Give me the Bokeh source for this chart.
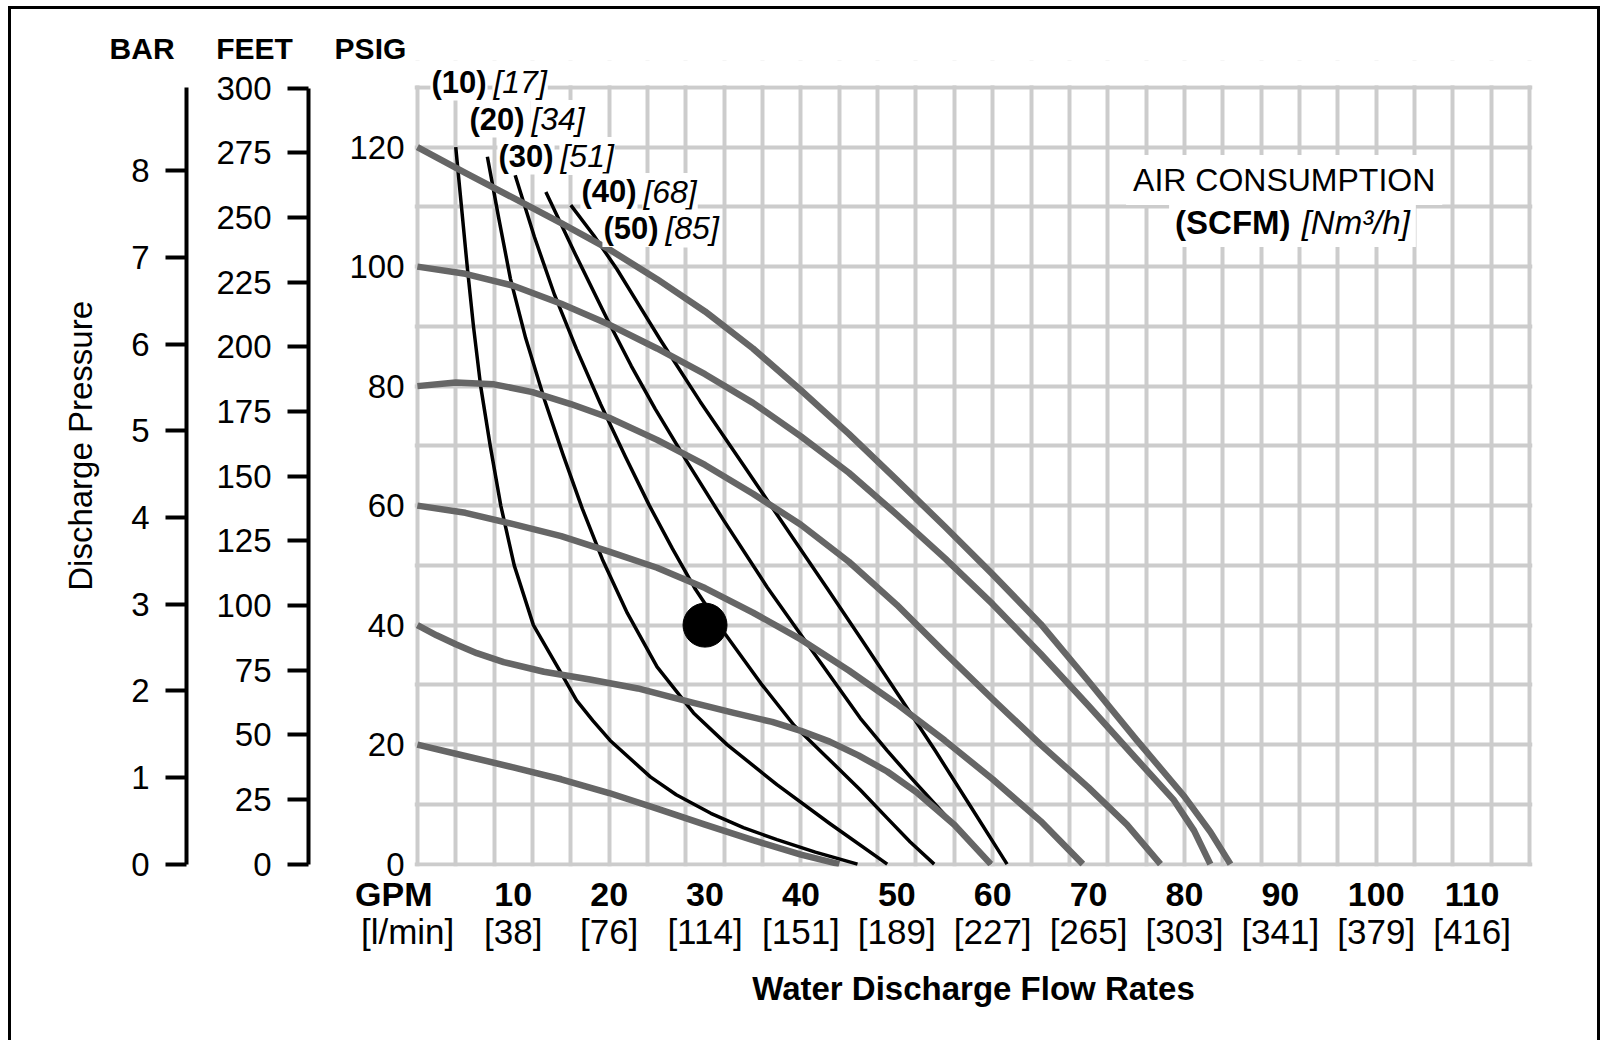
import math
from bokeh.plotting import figure
from bokeh.models import LinearAxis, Range1d, FixedTicker, Label, BoxAnnotation
from bokeh.embed import file_html
from bokeh.resources import INLINE

# ---------------- data ----------------
gpm_ticks = [10, 20, 30, 40, 50, 60, 70, 80, 90, 100, 110]
lpm_labels = ["[38]", "[76]", "[114]", "[151]", "[189]", "[227]", "[265]",
              "[303]", "[341]", "[379]", "[416]"]
gpm_unit = "GPM"
lpm_unit = "[l/min]"
psig_ticks = [0, 20, 40, 60, 80, 100, 120]
feet_ticks = [0, 25, 50, 75, 100, 125, 150, 175, 200, 225, 250, 275, 300]
bar_ticks = [0, 1, 2, 3, 4, 5, 6, 7, 8]

# discharge-pressure curves for each air inlet pressure (gray)
p120_gpm = [0, 5, 10, 15, 20, 25, 30, 35, 40, 45, 50, 55, 60, 65, 70, 75, 80, 82.7, 84.8]
p120_psi = [120, 115.7, 111.5, 107.3, 102.9, 97.9, 92.5, 86.3, 79.3, 72.0, 64.3, 56.5, 48.5,
            40.2, 30.6, 20.8, 11.3, 5.4, 0]
p100_gpm = [0, 5, 10, 15, 20, 25, 30, 35, 40, 45, 50, 55, 60, 65, 70, 75, 78.9, 81.0, 82.7]
p100_psi = [100, 98.8, 96.8, 93.8, 90.3, 86.3, 82.0, 77.2, 71.6, 65.5, 58.5, 51.2, 43.5,
            35.2, 26.5, 17.6, 10.7, 5.6, 0]
p80_gpm = [0, 4, 8, 12, 16, 20, 25, 30, 35, 40, 45, 50, 55, 60, 65, 70, 74, 77.5]
p80_psi = [80, 80.6, 80.3, 79.0, 77.0, 74.7, 71.0, 66.8, 62.0, 56.8, 50.6, 43.4, 35.4,
           27.6, 20.0, 12.8, 6.6, 0]
p60_gpm = [0, 5, 10, 15, 20, 25, 30, 35, 40, 45, 50, 55, 60, 65, 69.4]
p60_psi = [60, 58.8, 56.9, 54.9, 52.3, 49.6, 46.2, 42.1, 37.6, 32.4, 26.8, 20.7, 14.2, 7.2, 0]
p40_gpm = [0, 2, 4, 6.2, 9, 13.2, 18, 23, 28.8, 33, 37, 40, 43, 46, 49, 52, 56, 59.8]
p40_psi = [40, 38.3, 36.8, 35.3, 33.8, 32.2, 30.9, 29.4, 27.0, 25.3, 23.8, 22.3, 20.5,
           18.2, 15.5, 12.1, 6.6, 0]
p20_gpm = [0, 5, 10, 15, 20, 25, 30, 35, 40, 44]
p20_psi = [20, 18.1, 16.2, 14.2, 11.9, 9.3, 6.6, 4.0, 1.6, 0]

# air consumption curves (black), SCFM
s10_gpm = [4.0, 4.6, 5.2, 5.85, 6.6, 7.6, 8.7, 10.1, 12.1, 14.8, 16.6, 18.3, 20.1, 24.3,
           27.0, 30.6, 34.0, 37.5, 41.5, 45.9]
s10_psi = [120, 110, 100, 90, 80, 70, 60, 50, 40, 32.5, 27.4, 24.0, 20.7, 14.6,
           11.6, 8.5, 6.1, 4.1, 2.0, 0]
s20_gpm = [7.3, 8.5, 9.7, 11.3, 13.3, 15.2, 17.2, 19.3, 21.9, 25.0, 28.8, 32.3, 37.5, 43.0, 49.0]
s20_psi = [118.4, 108, 98, 88, 77.5, 68.5, 59.5, 51, 42, 33, 25.3, 20.0, 13.3, 6.8, 0]
s30_gpm = [10.2, 12.2, 14.3, 16.6, 19.1, 21.7, 24.2, 26.6, 29.0, 32.1, 35.8, 39.3, 42.7,
           46.2, 49.0, 51.4, 53.9]
s30_psi = [115.3, 105, 95.3, 86.2, 77.0, 68.2, 60.0, 52.8, 46.0, 38.5, 30.3, 23.2, 17.9,
           12.4, 7.7, 3.7, 0]
s40_gpm = [13.4, 16.5, 19.8, 22.3, 24.8, 28.1, 32.0, 36.5, 39.9, 43.0, 46.2, 49.0, 51.4, 55.5, 59.8]
s40_psi = [112.5, 102, 91.2, 83.4, 76.2, 67.4, 57.4, 46.3, 38.6, 31.6, 24.4, 19.0, 14.6, 7.4, 0]
s50_gpm = [16.0, 18.4, 20.8, 23.1, 25.4, 29.5, 34.0, 39.2, 42.8, 46.2, 50.5, 54.0, 57.8, 61.5]
s50_psi = [110.3, 105.2, 99.6, 93.6, 87.6, 77.4, 66.8, 54.5, 46.0, 37.9, 27.5, 19.0, 9.4, 0]

scfm_values = [10, 20, 30, 40, 50]
nm3h_values = [17, 34, 51, 68, 85]

dot_gpm = [30]
dot_psi = [40]

# ---------------- styling ----------------
FONT = "Liberation Sans"
GRAY = "#666666"
GRID = "#cccccc"
PSI_PER_BAR = 14.5038
FT_PER_PSI = 2.31
NB = "\u00a0"

x0, x1 = -0.3, 116.3
y0, y1 = -0.4, 134.5      # headroom above the 130 psi grid top for the curve labels
GRID_TOP = 130

p = figure(width=1592, height=1034, x_range=Range1d(x0, x1), y_range=Range1d(y0, y1),
           output_backend="svg", toolbar_location=None,
           min_border_left=403, min_border_right=71, min_border_top=51, min_border_bottom=177)
p.styles = {"border": "3px solid black", "border-bottom": "none",
            "margin-left": "8px", "margin-top": "6px"}
p.outline_line_color = None
p.background_fill_color = "white"
p.border_fill_color = "white"

p.extra_y_ranges = {
    "feet": Range1d(y0 * FT_PER_PSI, y1 * FT_PER_PSI),
    "bar": Range1d(y0 / PSI_PER_BAR, y1 / PSI_PER_BAR),
}

# grid
p.xgrid.ticker = FixedTicker(ticks=list(range(0, 117, 4)))
p.ygrid.ticker = FixedTicker(ticks=list(range(0, GRID_TOP + 1, 10)))
for g in (p.xgrid, p.ygrid):
    g.grid_line_color = GRID
    g.grid_line_width = 4
# hide the vertical grid above the 130 psi line (headroom area)
p.add_layout(BoxAnnotation(bottom=GRID_TOP + 0.34, fill_color="white", fill_alpha=1.0,
                           line_color=None, level="underlay"))

# PSIG axis (nearest the frame)
ya = p.yaxis[0]
ya.ticker = FixedTicker(ticks=psig_ticks)
ya.axis_line_color = None
ya.major_tick_line_color = None
ya.minor_tick_line_color = None
ya.major_tick_out = 0
ya.major_tick_in = 0
ya.major_label_standoff = 10
ya.major_label_text_font = FONT
ya.major_label_text_font_size = "33px"
ya.major_label_text_color = "black"
ya.axis_label = " "
ya.axis_label_text_font_size = "1px"
ya.axis_label_standoff = 34


def side_axis(rng, ticks, bounds, pad):
    ax = LinearAxis(y_range_name=rng, ticker=FixedTicker(ticks=ticks), bounds=bounds)
    ax.axis_line_width = 4
    ax.axis_line_color = "black"
    ax.major_tick_line_width = 4
    ax.major_tick_line_color = "black"
    ax.major_tick_out = 21
    ax.major_tick_in = 0
    ax.minor_tick_line_color = None
    ax.major_label_standoff = 16
    ax.major_label_text_font = FONT
    ax.major_label_text_font_size = "33px"
    ax.major_label_text_color = "black"
    if pad:
        ax.axis_label = " "
        ax.axis_label_text_font_size = "1px"
        ax.axis_label_standoff = pad
    return ax


feet_axis = side_axis("feet", feet_ticks, (0, 300), 23)
p.add_layout(feet_axis, "left")
bar_axis = side_axis("bar", bar_ticks, (0, GRID_TOP / PSI_PER_BAR), 0)
p.add_layout(bar_axis, "left")

# bottom axes (unit names sit at the 0 tick, padded so they shift left)
xa = p.xaxis[0]
xa.ticker = FixedTicker(ticks=[0] + gpm_ticks)
xa.major_label_overrides = {0: gpm_unit + NB * 5, **{t: str(t) for t in gpm_ticks}}
xa.axis_line_color = None
xa.major_tick_line_color = None
xa.minor_tick_line_color = None
xa.major_tick_out = 0
xa.major_tick_in = 0
xa.major_label_standoff = 8
xa.major_label_text_font = FONT
xa.major_label_text_font_style = "bold"
xa.major_label_text_font_size = "34px"
xa.major_label_text_color = "black"

xb = LinearAxis(ticker=FixedTicker(ticks=[0] + gpm_ticks))
xb.major_label_overrides = {0: lpm_unit + NB * 2, **{t: s for t, s in zip(gpm_ticks, lpm_labels)}}
xb.axis_line_color = None
xb.major_tick_line_color = None
xb.minor_tick_line_color = None
xb.major_tick_out = 0
xb.major_tick_in = 0
xb.major_label_standoff = -4
xb.major_label_text_font = FONT
xb.major_label_text_font_size = "35px"
xb.major_label_text_color = "black"
xb.axis_label = "Water Discharge Flow Rates"
xb.axis_label_text_font = FONT
xb.axis_label_text_font_style = "bold"
xb.axis_label_text_font_size = "33px"
xb.axis_label_text_color = "black"
xb.axis_label_standoff = 16
p.add_layout(xb, "below")

# curves: black air-consumption lines first, gray pressure curves on top
for gx, gy in [(s10_gpm, s10_psi), (s20_gpm, s20_psi), (s30_gpm, s30_psi),
               (s40_gpm, s40_psi), (s50_gpm, s50_psi)]:
    p.line(gx, gy, line_color="black", line_width=3.5, line_join="round")
for gx, gy in [(p120_gpm, p120_psi), (p100_gpm, p100_psi), (p80_gpm, p80_psi),
               (p60_gpm, p60_psi), (p40_gpm, p40_psi), (p20_gpm, p20_psi)]:
    p.line(gx, gy, line_color=GRAY, line_width=6.5, line_join="round")

p.scatter(dot_gpm, dot_psi, size=44, color="black")


# ---------------- text ----------------
def lab(x, y, text, size="33px", style="normal", align="left", baseline="middle",
        angle=0, bg=None, x_offset=0, padding=0, side="center"):
    kw = dict(x=x, y=y, text=text, text_font=FONT, text_font_size=size,
              text_font_style=style, text_align=align, text_baseline=baseline,
              text_color="black", angle=angle, x_offset=x_offset)
    if bg:
        kw["background_fill_color"] = bg
        kw["padding"] = padding
    p.add_layout(Label(**kw), side)


# axis headers and vertical title live in the side panels (outside the frame)
lab(-32.1, 136.5, "BAR" + NB * 5 + "FEET" + NB * 5 + "PSIG", size="30px", style="bold",
    side="above")
lab(-35.15, 70.0, "Discharge Pressure", size="33px", align="center", angle=math.pi / 2,
    side="left")

# air consumption curve labels
label_pos = [(1.36, 130.9), (5.32, 124.7), (8.35, 118.5), (17.0, 112.5), (19.3, 106.4)]
for (lx, ly), s, n in zip(label_pos, scfm_values, nm3h_values):
    lab(lx, ly, f"({s})", size="31px", style="bold", bg="white", padding=1)
    lab(lx, ly, f"[{n}]", size="32px", style="italic", bg="white", x_offset=62, padding=1)

# legend text block
lab(90.4, 114.5, "AIR CONSUMPTION", size="32px", align="center", bg="white", padding=7)
lab(78.4, 107.4, "(SCFM)", size="33px", style="bold", bg="white", padding=6)
lab(91.6, 107.4, "[Nm\u00b3/h]", size="33px", style="italic", bg="white", padding=6)

open("out.html", "w").write(file_html(p, INLINE))
